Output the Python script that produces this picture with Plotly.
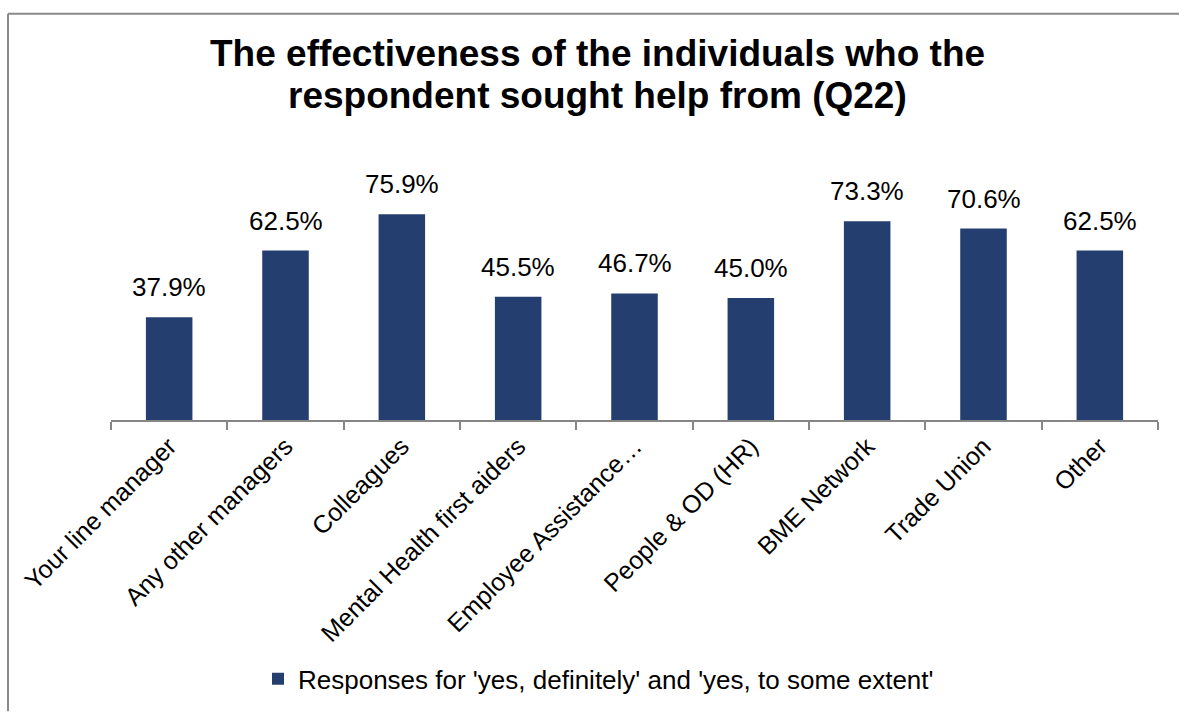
import plotly.graph_objects as go

categories = ["Your line manager", "Any other managers", "Colleagues",
              "Mental Health first aiders", "Employee Assistance…",
              "People & OD (HR)", "BME Network", "Trade Union", "Other"]
values = [0.379, 0.625, 0.759, 0.455, 0.467, 0.450, 0.733, 0.706, 0.625]
series_name = "Responses for 'yes, definitely' and 'yes, to some extent'"
title_lines = ["The effectiveness of the individuals who the",
               "respondent sought help from (Q22)"]

FONT = "Liberation Sans, Arial, sans-serif"
W, H = 1179, 715
# target pixel positions of the plot area
PLOT_L, PLOT_R, PLOT_T, PLOT_B = 111, 1158, 176, 424
L = PLOT_L
R = W - PLOT_R
T = PLOT_T
B = H - PLOT_B
plot_w = PLOT_R - PLOT_L
plot_h = PLOT_B - PLOT_T
ymax = 0.9


def px_x(x):
    return (x - PLOT_L) / plot_w


def px_y(y):
    return (PLOT_B - y) / plot_h


fig = go.Figure()
fig.add_trace(go.Bar(
    x=categories, y=values, name=series_name,
    marker=dict(color="#243F6F", line=dict(width=0)),
    showlegend=True,
))

for c, v in zip(categories, values):
    fig.add_annotation(x=c, y=v, text=f"{v*100:.1f}%", showarrow=False,
                       yanchor="bottom", yshift=13,
                       font=dict(family=FONT, size=26, color="#000000"))

# title as two lines
for line, base in zip(title_lines, [65, 108]):
    fig.add_annotation(xref="paper", yref="paper", x=px_x(597), y=px_y(base + 9),
                       xanchor="center", yanchor="bottom", showarrow=False,
                       text=f"<b>{line}</b>",
                       font=dict(family=FONT, size=37, color="#000000"))

# outer chart border (top and left edges visible in the frame)
border = dict(color="#8a8a8a", width=2)
fig.add_shape(type="line", xref="paper", yref="paper",
              x0=px_x(8), x1=px_x(W + 5), y0=px_y(11), y1=px_y(11),
              line=border, layer="below")
fig.add_shape(type="line", xref="paper", yref="paper",
              x0=px_x(8), x1=px_x(8), y0=px_y(11), y1=px_y(H + 5),
              line=border, layer="below")

fig.update_layout(
    width=W, height=H,
    margin=dict(l=L, r=R, t=T, b=B),
    paper_bgcolor="white", plot_bgcolor="white",
    bargap=0.6,
    legend=dict(orientation="h", x=0.5 - 36 / plot_w, xanchor="center",
                y=px_y(687), yanchor="middle",
                font=dict(family=FONT, size=26, color="#000000"),
                itemwidth=30, bgcolor="rgba(0,0,0,0)"),
    font=dict(family=FONT, color="#000000"),
)
fig.update_xaxes(showline=True, linecolor="#868686", linewidth=1.5,
                 ticks="outside", tickson="boundaries", ticklen=8,
                 tickcolor="#868686", tickwidth=1.5,
                 tickangle=-45, tickfont=dict(family=FONT, size=25, color="#000000"),
                 showgrid=False, fixedrange=True)
fig.update_yaxes(range=[0, ymax], visible=False, showgrid=False, fixedrange=True)

fig.write_html("out.html",
               config={"displayModeBar": False},
               post_script="document.body.style.margin='0';"
                           "document.body.style.overflow='hidden';")
